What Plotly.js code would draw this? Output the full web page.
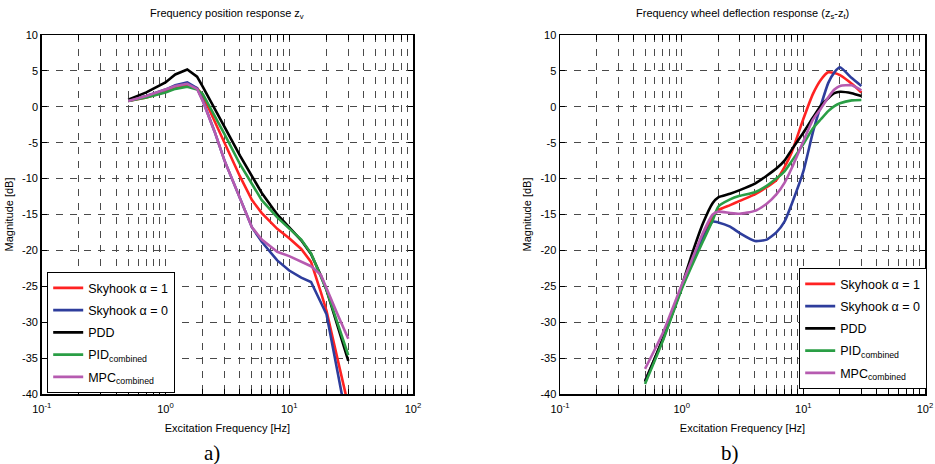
<!DOCTYPE html>
<html>
<head>
<meta charset="utf-8">
<script src="https://cdn.plot.ly/plotly-3.0.1.min.js"></script>
<style>html,body{margin:0;padding:0;background:#fff;}#chart{width:935px;height:464px;}</style>
</head>
<body>
<div id="chart"></div>
<script>
// ---- Data ----
const seriesNames = ['Skyhook \u03b1 = 1', 'Skyhook \u03b1 = 0', 'PDD', 'PID<sub>combined</sub>', 'MPC<sub>combined</sub>'];
const seriesColors = ['#ff2222', '#2e3d9c', '#000000', '#2a9e45', '#b65bb0'];

// a) Frequency position response z_v
const freqA = [0.5, 0.7, 1, 1.2, 1.5, 1.8, 2, 2.5, 3, 4, 5, 6, 8, 10, 12.5, 15, 18, 20, 25, 30];
const sky1A = [0.8, 1.3, 2.1, 2.6, 3.0, 2.6, 1.6, -2.0, -5.0, -9.7, -13.0, -14.8, -17.0, -18.3, -19.8, -21.6, -25.8, -28.4, -35.7, -41.6];
const sky0A = [0.8, 1.5, 2.4, 3.0, 3.4, 2.6, 0.9, -3.5, -7.5, -12.8, -16.8, -18.8, -21.4, -22.8, -23.8, -24.4, -27.2, -28.9, -37.6, -44.8];
const pddA  = [1.0, 2.0, 3.4, 4.5, 5.2, 4.2, 2.8, -0.2, -2.8, -6.8, -9.7, -12.0, -15.0, -16.8, -18.6, -20.5, -23.5, -25.5, -31.0, -35.4];
const pidA  = [0.8, 1.3, 2.0, 2.5, 2.8, 2.4, 1.8, -1.2, -3.8, -8.0, -10.8, -13.0, -15.4, -16.9, -18.5, -20.4, -23.6, -25.5, -30.5, -34.6];
const mpcA  = [0.8, 1.5, 2.4, 2.9, 3.2, 2.5, 0.8, -3.5, -7.5, -12.8, -16.8, -18.5, -20.2, -20.8, -21.6, -22.2, -23.4, -25.3, -29.2, -32.3];

// b) Frequency wheel deflection response (z_s - z_t)
const freqB = [0.5, 0.7, 1, 1.2, 1.5, 1.8, 2, 2.5, 3, 4, 5, 6, 7, 8, 10, 12, 14, 16, 18, 20, 25, 30];
const sky1B = [-38.2, -32.4, -25.2, -22.0, -18.0, -15.3, -14.4, -13.7, -13.1, -12.2, -11.2, -10.2, -8.4, -6.4, -1.7, 1.8, 3.8, 4.8, 4.7, 4.4, 3.2, 2.0];
const sky0B = [-38.2, -32.4, -25.2, -22.0, -18.3, -16.0, -16.1, -16.7, -17.6, -18.7, -18.5, -17.5, -16.0, -13.6, -9.0, -3.5, 0.3, 3.3, 4.8, 5.5, 4.0, 2.9];
const pddB  = [-38.3, -32.3, -25.0, -20.8, -16.2, -13.4, -12.6, -12.1, -11.6, -10.7, -9.6, -8.6, -7.5, -6.0, -3.6, -1.5, 0.2, 1.2, 1.9, 2.1, 1.9, 1.5];
const pidB  = [-38.6, -32.6, -25.4, -22.3, -18.7, -15.8, -13.9, -12.9, -12.4, -11.9, -11.0, -10.0, -9.0, -7.6, -5.2, -3.0, -1.7, -0.6, 0.1, 0.5, 0.9, 0.95];
const mpcB  = [-36.5, -31.5, -24.8, -21.5, -17.5, -15.0, -14.6, -14.8, -14.9, -14.5, -13.5, -12.2, -10.6, -8.6, -4.8, -1.8, -0.2, 1.3, 2.4, 2.9, 3.0, 2.3];

// Tick labels
const xMajorVals = [0.1, 1, 10, 100];
const xMajorText = ['10<sup>-1</sup>', '10<sup>0</sup>', '10<sup>1</sup>', '10<sup>2</sup>'];
const xMinorVals = [0.2,0.3,0.4,0.5,0.6,0.7,0.8,0.9,2,3,4,5,6,7,8,9,20,30,40,50,60,70,80,90];
const yTickVals = [-40, -35, -30, -25, -20, -15, -10, -5, 0, 5, 10];
const yTickText = ['-40', '-35', '-30', '-25', '-20', '-15', '-10', '-5', '0', '5', '10'];

// ---- Traces ----
const dataA = [sky1A, sky0A, pddA, pidA, mpcA];
const dataB = [sky1B, sky0B, pddB, pidB, mpcB];
const traces = [];
dataA.forEach((ys, i) => traces.push({
  x: freqA, y: ys, type: 'scatter', mode: 'lines', name: seriesNames[i],
  xaxis: 'x', yaxis: 'y', legend: 'legend', legendgroup: 'a' + i,
  line: {color: seriesColors[i], width: 2.6}
}));
dataB.forEach((ys, i) => traces.push({
  x: freqB, y: ys, type: 'scatter', mode: 'lines', name: seriesNames[i],
  xaxis: 'x2', yaxis: 'y2', legend: 'legend2', legendgroup: 'b' + i,
  line: {color: seriesColors[i], width: 2.6, shape: 'spline', smoothing: 0.5}
}));

const FONT = 'Liberation Sans, Arial, sans-serif';
const GRID = {gridcolor: '#4a4a4a', gridwidth: 1, griddash: '7px,7px'};
function xAxis(domain, anchor) {
  return Object.assign({
    type: 'log', range: [-1, 2], domain: domain, anchor: anchor,
    tickmode: 'array', tickvals: xMajorVals, ticktext: xMajorText,
    ticks: 'inside', ticklen: 5, tickwidth: 1, tickcolor: '#000',
    ticklabelstandoff: 4,
    minor: Object.assign({tickmode: 'array', tickvals: xMinorVals, ticks: 'inside', ticklen: 5,
                          tickwidth: 1, tickcolor: '#000', showgrid: true}, GRID),
    mirror: 'allticks', showline: true, linecolor: '#000', linewidth: 1.5, showgrid: true,
    zeroline: false, tickfont: {family: FONT, size: 11, color: '#000'},
    title: {text: 'Excitation Frequency [Hz]', font: {family: FONT, size: 11, color: '#000'}, standoff: 10}
  }, GRID);
}
function yAxis(domain, anchor) {
  return Object.assign({
    range: [-40, 10], domain: domain, anchor: anchor,
    tickmode: 'array', tickvals: yTickVals, ticktext: yTickText,
    ticks: 'inside', ticklen: 5, tickwidth: 1, tickcolor: '#000',
    mirror: 'allticks', showline: true, linecolor: '#000', linewidth: 1.5, showgrid: true,
    zeroline: false, tickfont: {family: FONT, size: 11, color: '#000'},
    title: {text: 'Magnitude [dB]', font: {family: FONT, size: 11, color: '#000'}, standoff: 6}
  }, GRID);
}

const yDom = [1 - 394 / 464, 1 - 35 / 464];
const legendStyle = {
  bgcolor: '#ffffff', bordercolor: '#000', borderwidth: 1.2,
  font: {family: FONT, size: 12.5, color: '#000'},
  xanchor: 'left', yanchor: 'bottom', tracegroupgap: 3
};

const layout = {
  width: 935, height: 464,
  margin: {l: 0, r: 0, t: 0, b: 0},
  paper_bgcolor: '#fff', plot_bgcolor: '#fff',
  font: {family: FONT, color: '#000'},
  showlegend: true,
  xaxis: xAxis([41.7 / 935, 413 / 935], 'y'),
  yaxis: yAxis(yDom, 'x'),
  xaxis2: xAxis([560 / 935, 925 / 935], 'y2'),
  yaxis2: yAxis(yDom, 'x2'),
  legend: Object.assign({x: 47 / 935, y: 1 - 393 / 464}, legendStyle),
  legend2: Object.assign({x: 799 / 935, y: 1 - 389 / 464}, legendStyle),
  annotations: [
    {text: 'Frequency position response z<sub>v</sub>', xref: 'paper', yref: 'paper',
     x: 227 / 935, y: 1 - 14 / 464, xanchor: 'center', yanchor: 'middle', showarrow: false,
     font: {family: FONT, size: 11, color: '#000'}},
    {text: 'Frequency wheel deflection response (z<sub>s</sub>-z<sub>t</sub>)', xref: 'paper', yref: 'paper',
     x: 742 / 935, y: 1 - 14 / 464, xanchor: 'center', yanchor: 'middle', showarrow: false,
     font: {family: FONT, size: 11, color: '#000'}},
    {text: 'a)', xref: 'paper', yref: 'paper', x: 212 / 935, y: 1 - 453 / 464,
     xanchor: 'center', yanchor: 'middle', showarrow: false,
     font: {family: 'Liberation Serif, Times New Roman, serif', size: 21, color: '#000'}},
    {text: 'b)', xref: 'paper', yref: 'paper', x: 730 / 935, y: 1 - 453 / 464,
     xanchor: 'center', yanchor: 'middle', showarrow: false,
     font: {family: 'Liberation Serif, Times New Roman, serif', size: 21, color: '#000'}}
  ]
};

Plotly.newPlot('chart', traces, layout, {displayModeBar: false, staticPlot: true});
</script>
</body>
</html>
